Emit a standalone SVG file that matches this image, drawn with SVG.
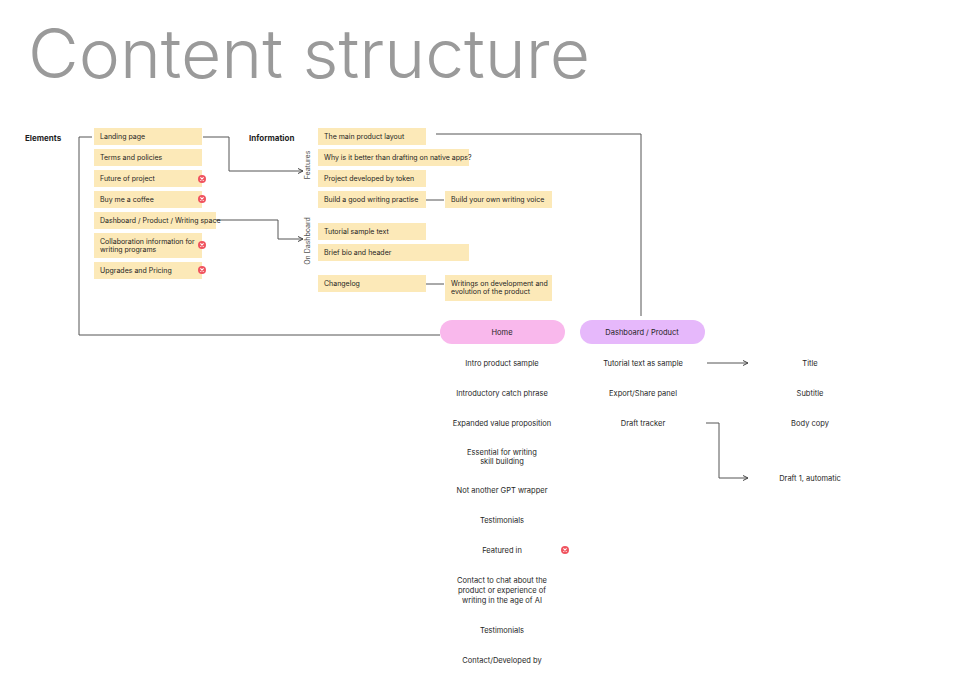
<svg xmlns="http://www.w3.org/2000/svg" width="980" height="691" viewBox="0 0 980 691">
<style>
text{font-family:Inter,"Noto Sans","Liberation Sans",sans-serif;fill:#1e1e1e}
.n{fill:#fce9b8}
.t{font-size:7px}
.h{font-size:8px;font-weight:700}
.c{font-size:7.5px;text-anchor:middle}
.ln{fill:none;stroke:#555;stroke-width:1}
.x circle{fill:#f0545f}
.x path{stroke:#fff;stroke-width:1.1}
</style>
<defs>
<marker id="a" markerWidth="6" markerHeight="6" refX="5" refY="3" orient="auto"><path d="M0,0.5 L5,3 L0,5.5" fill="none" stroke="#444" stroke-width="1"/></marker>
<g id="xi" class="x"><circle r="4"/><path d="M-1.6,-1.6 L1.6,1.6 M1.6,-1.6 L-1.6,1.6"/></g>
</defs>
<rect width="980" height="691" fill="#fff"/>
<text x="28" y="78" font-size="68" font-weight="300" style="fill:#9a9a9a" textLength="562" lengthAdjust="spacingAndGlyphs">Content structure</text>
<text class="h" x="25" y="141">Elements</text>
<text class="h" x="249" y="141">Information</text>
<g id="connectors">
<path class="ln" d="M92,137 H79 V335 H440"/>
<path class="ln" d="M203,137 H229 V171 H303" marker-end="url(#a)"/>
<path class="ln" d="M216,220 H278 V239 H303" marker-end="url(#a)"/>
<path class="ln" d="M436,134 H641 V316"/>
<path class="ln" d="M426,200 H444"/>
<path class="ln" d="M426,284 H444"/>
<path class="ln" d="M707,363 H748" marker-end="url(#a)"/>
<path class="ln" d="M706,423 H719 V478 H748" marker-end="url(#a)"/>
</g>
<g id="left">
<rect class="n" x="94" y="128" width="108" height="17"/><text class="t" x="100" y="139">Landing page</text>
<rect class="n" x="94" y="149" width="108" height="17"/><text class="t" x="100" y="160">Terms and policies</text>
<rect class="n" x="94" y="170" width="108" height="17"/><text class="t" x="100" y="181">Future of project</text>
<rect class="n" x="94" y="191" width="108" height="17"/><text class="t" x="100" y="202">Buy me a coffee</text>
<rect class="n" x="94" y="212" width="122" height="17"/><text class="t" x="100" y="223">Dashboard / Product / Writing space</text>
<rect class="n" x="94" y="233" width="108" height="25"/><text class="t" x="100" y="244">Collaboration information for</text><text class="t" x="100" y="252">writing programs</text>
<rect class="n" x="94" y="262" width="108" height="17"/><text class="t" x="100" y="273">Upgrades and Pricing</text>
<use href="#xi" x="202" y="179"/><use href="#xi" x="202" y="199"/><use href="#xi" x="202" y="245"/><use href="#xi" x="202" y="270"/>
</g>
<text class="t" transform="translate(310,165) rotate(-90)" text-anchor="middle" style="fill:#555">Features</text>
<text class="t" transform="translate(310,241) rotate(-90)" text-anchor="middle" style="fill:#555">On Dashboard</text>
<g id="right">
<rect class="n" x="318" y="128" width="108" height="17"/><text class="t" x="324" y="139">The main product layout</text>
<rect class="n" x="318" y="149" width="151" height="17"/><text class="t" x="324" y="160">Why is it better than drafting on native apps?</text>
<rect class="n" x="318" y="170" width="108" height="17"/><text class="t" x="324" y="181">Project developed by token</text>
<rect class="n" x="318" y="191" width="108" height="17"/><text class="t" x="324" y="202">Build a good writing practise</text>
<rect class="n" x="445" y="191" width="107" height="17"/><text class="t" x="451" y="202">Build your own writing voice</text>
<rect class="n" x="318" y="223" width="108" height="17"/><text class="t" x="324" y="234">Tutorial sample text</text>
<rect class="n" x="318" y="244" width="151" height="17"/><text class="t" x="324" y="255">Brief bio and header</text>
<rect class="n" x="318" y="275" width="108" height="17"/><text class="t" x="324" y="286">Changelog</text>
<rect class="n" x="445" y="275" width="107" height="26"/><text class="t" x="451" y="286">Writings on development and</text><text class="t" x="451" y="294">evolution of the product</text>
</g>
<g id="home">
<rect x="440" y="320" width="125" height="24" rx="12" fill="#f9b8ec"/><text class="c" x="502" y="335">Home</text>
<text class="c" x="502" y="366">Intro product sample</text>
<text class="c" x="502" y="396">Introductory catch phrase</text>
<text class="c" x="502" y="426">Expanded value proposition</text>
<text class="c" x="502" y="455">Essential for writing</text><text class="c" x="502" y="464">skill building</text>
<text class="c" x="502" y="493">Not another GPT wrapper</text>
<text class="c" x="502" y="523">Testimonials</text>
<text class="c" x="502" y="553">Featured in</text>
<use href="#xi" x="565" y="550"/>
<text class="c" x="502" y="583">Contact to chat about the</text><text class="c" x="502" y="593">product or experience of</text><text class="c" x="502" y="603">writing in the age of AI</text>
<text class="c" x="502" y="633">Testimonials</text>
<text class="c" x="502" y="663">Contact/Developed by</text>
</g>
<g id="dashboard">
<rect x="580" y="320" width="125" height="24" rx="12" fill="#e6b8fb"/><text class="c" x="642" y="335">Dashboard / Product</text>
<text class="c" x="643" y="366">Tutorial text as sample</text>
<text class="c" x="643" y="396">Export/Share panel</text>
<text class="c" x="643" y="426">Draft tracker</text>
</g>
<g id="details">
<text class="c" x="810" y="366">Title</text>
<text class="c" x="810" y="396">Subtitle</text>
<text class="c" x="810" y="426">Body copy</text>
<text class="c" x="810" y="481">Draft 1, automatic</text>
</g>
</svg>
